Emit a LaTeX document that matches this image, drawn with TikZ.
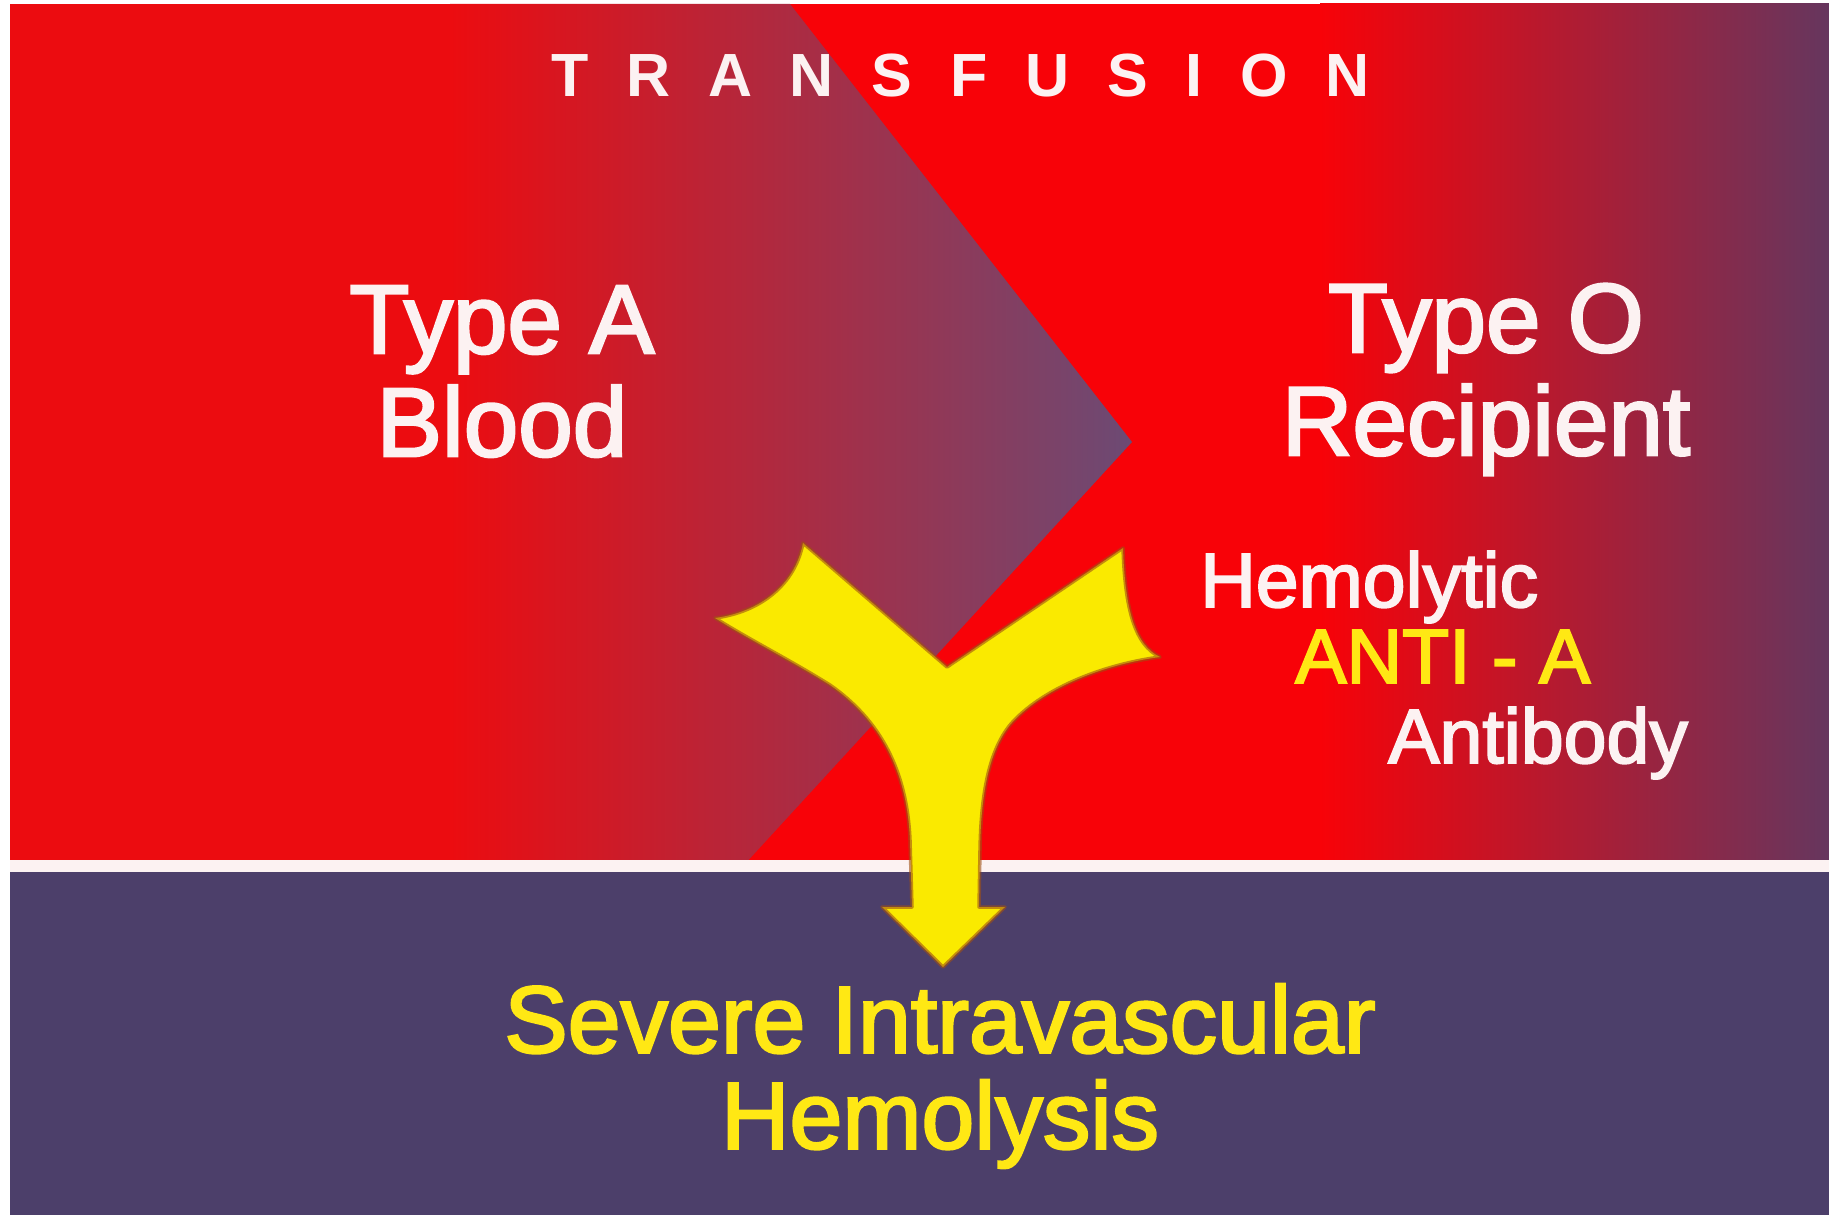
\documentclass[tikz,border=0pt]{standalone}
\usepackage{fontspec}
\setmainfont{Liberation Sans}
\newfontfamily\slidefont{Liberation Sans}[FakeBold=2.5]
\newfontfamily\titlefont{Liberation Sans}[LetterSpace=62]
\definecolor{redA}{RGB}{236,12,16}
\definecolor{redB}{RGB}{248,2,8}
\definecolor{maroonc}{RGB}{140,36,62}
\definecolor{chevpurple}{RGB}{108,74,116}
\definecolor{rightpurple}{RGB}{102,54,94}
\definecolor{lowblue}{RGB}{76,63,106}
\definecolor{yel}{RGB}{250,234,0}
\definecolor{txtyel}{RGB}{255,232,20}
\definecolor{halo}{RGB}{160,80,20}
\definecolor{txtwhite}{RGB}{252,242,242}
\begin{document}
\begin{tikzpicture}[x=1pt,y=-1pt,
  bigtxt/.style={font=\slidefont\fontsize{98}{103}\selectfont, text=txtwhite, inner sep=0pt, align=center},
  midtxt/.style={font=\slidefont\fontsize{77}{80}\selectfont, text=txtwhite, inner sep=0pt, anchor=base west},
  lowtxt/.style={font=\slidefont\fontsize{95}{96}\selectfont, text=txtyel, inner sep=0pt, align=center},
  titletxt/.style={font=\titlefont\bfseries\fontsize{61}{64}\selectfont, text=txtwhite, inner sep=0pt, anchor=base west},
  yshape/.style={fill=yel, draw=halo, line width=3.5pt, draw opacity=0.6, line join=round}]
\useasboundingbox (0,0) rectangle (1829,1215);
\fill[white] (0,0) rectangle (1829,1215);
% right red region
\fill[redB] (10,4) rectangle (1829,866);
\shade[left color=redB, right color=rightpurple] (1320,4) rectangle (1829,866);
% left region with chevron edge
\begin{scope}
  \clip (10,4) -- (790,4) -- (1132,442) -- (743,866) -- (10,866) -- cycle;
  \fill[redA] (10,4) rectangle (1140,866);
  \shade[left color=redA, middle color=maroonc, right color=chevpurple] (450,4) rectangle (1132,866);
\end{scope}
% lower band and white rule
\fill[lowblue] (10,866) rectangle (1829,1215);
\fill[txtwhite] (10,860) rectangle (1829,872);
% yellow Y arrow
\path[yshape] (803,543) -- (947,667) -- (1123,548)
  .. controls (1125,610) and (1135,645) .. (1160,657)
  .. controls (1100,665) and (1040,690) .. (1010,725)
  .. controls (990,750) and (981,790) .. (980,850)
  -- (979,907) -- (1005,907) -- (943,967) -- (882,907) -- (912,907) -- (910,840)
  .. controls (907,770) and (880,720) .. (830,685)
  .. controls (790,660) and (750,640) .. (715,618)
  .. controls (760,612) and (795,585) .. (803,543) -- cycle;
% texts
\node[titletxt] (title) at (551,96) {TRANSFUSION};
\node[bigtxt] (typeA) at (502,371.5) {Type A\\Blood};
\node[bigtxt] (typeO) at (1486,379.5) {Type O\\Recipient};
\node[midtxt] (hemo) at (1200,607) {Hemolytic};
\node[midtxt, text=txtyel] (anti) at (1295,683) {ANTI - A};
\node[midtxt] (antib) at (1388,763) {Antibody};
\node[lowtxt] (severe) at (940,1076) {Severe Intravascular\\Hemolysis};
\end{tikzpicture}
\end{document}
